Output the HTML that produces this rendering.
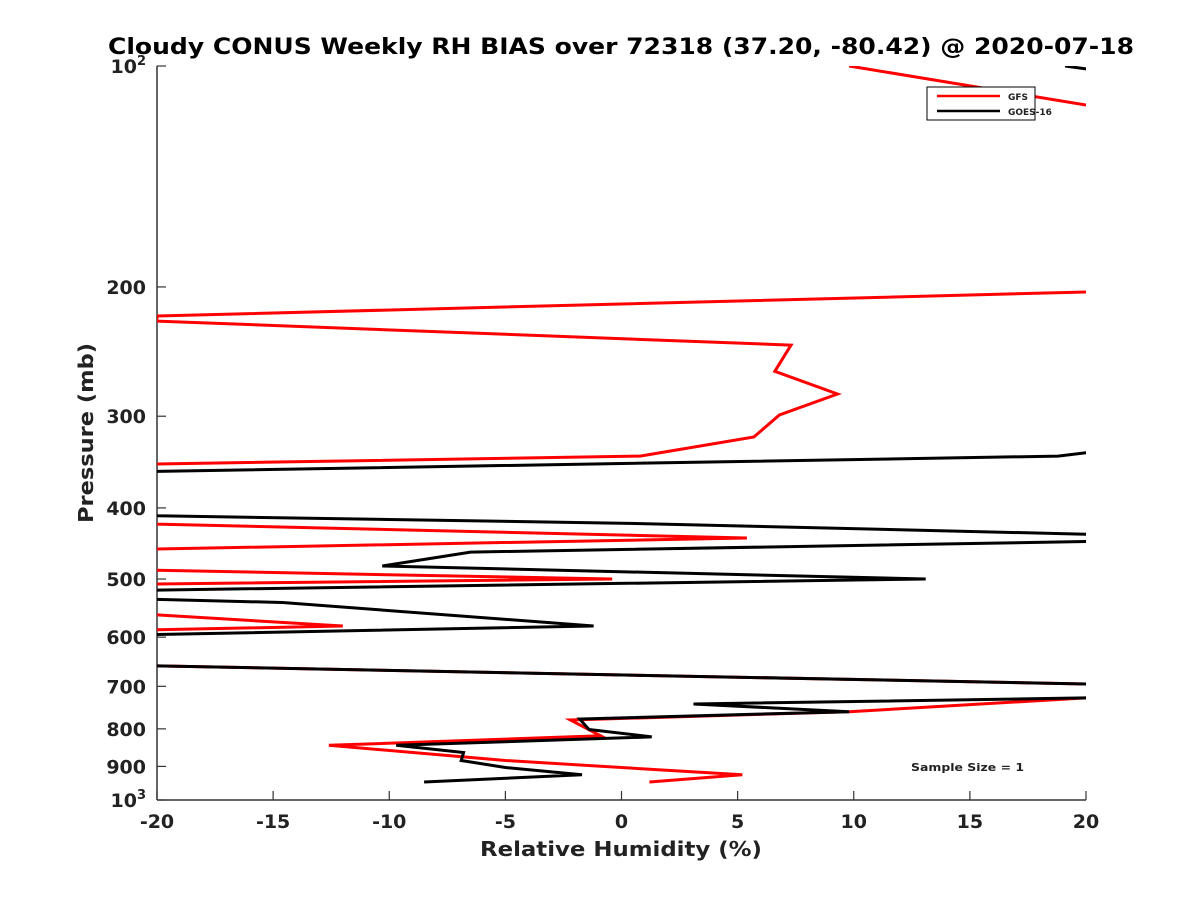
<!DOCTYPE html>
<html><head><meta charset="utf-8"><style>
body{margin:0;background:#fff;}
svg text{font-family:"DejaVu Sans","Liberation Sans",sans-serif;font-weight:bold;fill:#222;}
</style></head><body>
<svg id="chart" width="1200" height="900" xmlns="http://www.w3.org/2000/svg">
<rect width="1200" height="900" fill="#fff"/>
<defs><clipPath id="plotclip"><rect x="157" y="66" width="929" height="734"/></clipPath></defs>
<text x="621" y="54" text-anchor="middle" font-size="22" textLength="1026" lengthAdjust="spacingAndGlyphs" style="fill:#000">Cloudy CONUS Weekly RH BIAS over 72318 (37.20, -80.42) @ 2020-07-18</text>
<g id="axes"></g>
<g id="series" clip-path="url(#plotclip)"></g>
<text x="621" y="856" text-anchor="middle" font-size="20" textLength="282" lengthAdjust="spacingAndGlyphs">Relative Humidity (%)</text>
<text transform="translate(93,433) rotate(-90)" text-anchor="middle" font-size="20" textLength="180" lengthAdjust="spacingAndGlyphs">Pressure (mb)</text>
<g>
<rect x="927" y="87" width="108" height="33" fill="#fff" stroke="#000" stroke-width="1"/>
<line x1="937" y1="96" x2="1000" y2="96" stroke="#f00" stroke-width="2.5"/>
<text x="1008" y="100" font-size="9">GFS</text>
<line x1="937" y1="111" x2="1000" y2="111" stroke="#000" stroke-width="2.5"/>
<text x="1008" y="115" font-size="9">GOES-16</text>
</g>
<text x="911" y="771" font-size="11" textLength="113" lengthAdjust="spacingAndGlyphs">Sample Size = 1</text>
</svg>
<script>
const xTicks=[-20,-15,-10,-5,0,5,10,15,20];
const yTicks=[200,300,400,500,600,700,800,900];
const gfsRH=[9.8,20,40,20,-20,-20,7.3,6.6,9.3,6.8,5.7,0.8,-20,-40,-20,5.4,-20,-40,-20,-0.4,-20,-40,-20,-12,-20,-40,-20,20,40,20,9.8,-2.2,-0.9,-12.6,-5,5.2,1.2];
const gfsP=[100,113,160,203.2,219.1,222.6,240,260.6,279.8,298.9,320.2,340,348.5,390,420.9,439.6,455,470,486.4,500,507.8,530,559.6,579.4,586.3,620,656.6,695,710,726,758,778,817.7,842.2,883.4,923.9,945];
const goesRH=[19.1,20,40,40,20,18.8,-20,-40,-20,0,20,40,20,-6.5,-10.3,13.1,-20,-40,-20,-14.6,-1.2,-20,-40,-20,20,40,20,3.1,9.8,-1.8,-1.4,1.3,-9.7,-6.8,-6.9,-5,-1.7,-8.5];
const goesP=[100,100.9,150,330,336.5,340,356.7,380,410,419.6,434.4,440,444.4,459.5,480,500,517.6,525,533,538.1,579.4,595,620,656.6,695,710,726,739.9,758,775.7,801.5,820.3,842.2,861.5,883.4,903,923.9,945];
const L=157,R=1086,T=66,B=800,NS="http://www.w3.org/2000/svg";
const xs=v=>L+(v+20)/40*(R-L);
const ys=p=>T+Math.log10(p/100)*(B-T);
function mk(tag,attrs,parent){const e=document.createElementNS(NS,tag);for(const k in attrs)e.setAttribute(k,attrs[k]);parent.appendChild(e);return e;}
const ax=document.getElementById('axes');
let a=mk('line',{x1:L,y1:T,x2:L,y2:B,stroke:'#333','stroke-width':1.5},ax);


a=mk('line',{x1:L,y1:B,x2:R,y2:B,stroke:'#333','stroke-width':1.5},ax);


xTicks.forEach(v=>{const x=xs(v);
 const t=mk('line',{x1:x,y1:B,x2:x,y2:B-9,stroke:'#333','stroke-width':1.2},ax);
 
 
 const l=mk('text',{x:x,y:828,'text-anchor':'middle','font-size':19},ax);l.textContent=v;
 
 
});
yTicks.concat([100,1000]).forEach(p=>{const y=ys(p);
 const t=mk('line',{x1:L,y1:y,x2:L+9,y2:y,stroke:'#333','stroke-width':1.2},ax);
 
 
 const l=mk('text',{x:146,y:y+7,'text-anchor':'end','font-size':19},ax);
 if(p===100||p===1000){l.textContent='10';const s=mk('tspan',{dy:-8,'font-size':13},l);s.textContent=p===100?'2':'3';}
 else l.textContent=p;
 
 
});
const sg=document.getElementById('series');
function line(rh,p,color,name){
 const pts=rh.map((v,i)=>xs(v).toFixed(1)+','+ys(p[i]).toFixed(1)).join(' ');
 const e=mk('polyline',{points:pts,fill:'none',stroke:color,'stroke-width':3,'stroke-linejoin':'miter'},sg);
 
 
}
line(gfsRH,gfsP,'#f00','gfs-line');
line(goesRH,goesP,'#000','goes16-line');
</script>
</body></html>
